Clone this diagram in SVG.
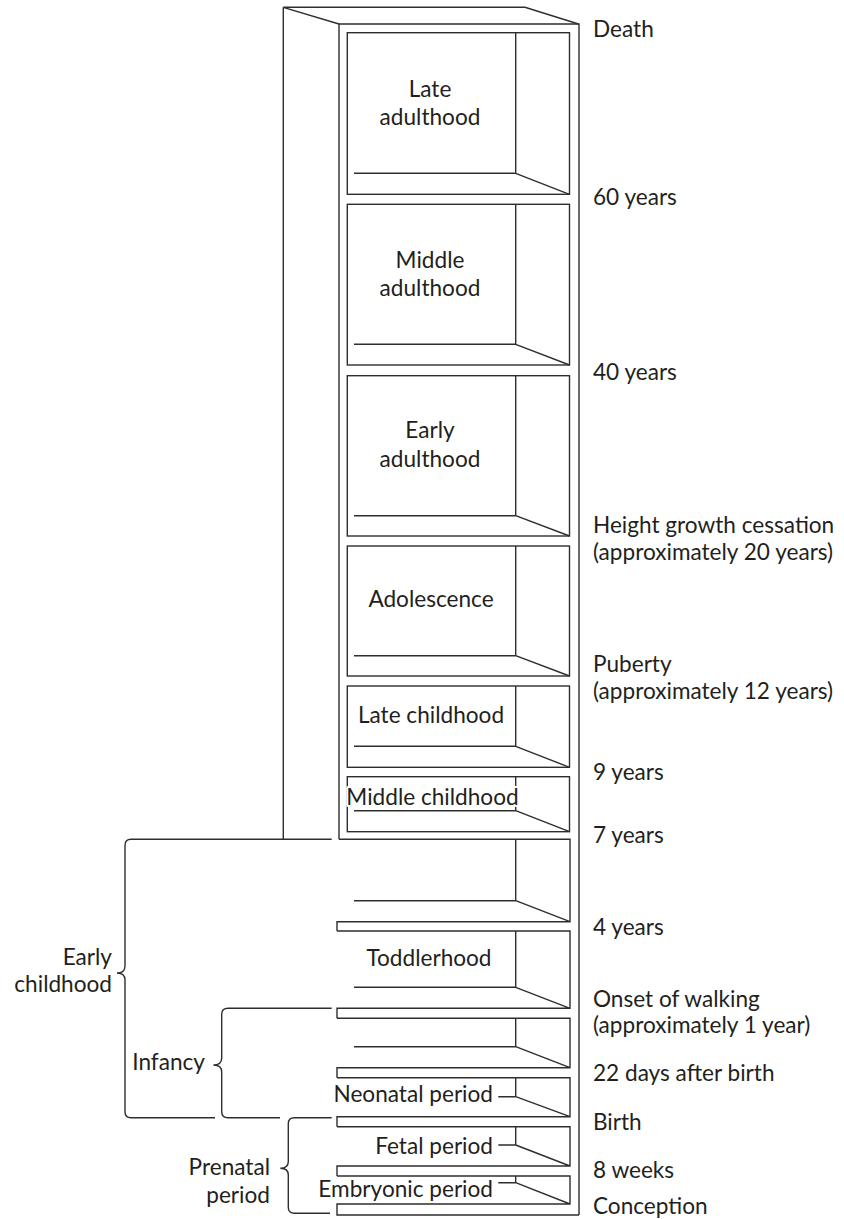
<svg xmlns="http://www.w3.org/2000/svg" width="844" height="1219" viewBox="0 0 844 1219">
<style>
.ln{fill:none;stroke:#2e2e2e;stroke-width:1.4;stroke-linejoin:miter}
.t{font-family:Lato,"Open Sans","Liberation Sans",sans-serif;font-size:22.6px;fill:#231f20}
.c{text-anchor:middle}
.e{text-anchor:end}
.halo{paint-order:stroke;stroke:#fff;stroke-width:4px;stroke-linejoin:round}
</style>
<rect width="844" height="1219" fill="#fff"/>
<g id="frame" class="ln">
<path d="M339,24 L283.3,7.3 H525 L578.5,24 M283.3,7.3 V839.3"/>
<path d="M339,839.3 V24 H579 V1215"/>
</g>
<g id="late-adulthood">
<rect class="ln" x="347.3" y="32.7" width="222.2" height="161.6"/>
<path class="ln" d="M354,173.3 H515.7 V32.7 M515.7,173.3 L569.5,194.3"/>
<text class="t c" x="430" y="96.5">Late</text>
<text class="t c" x="430" y="125">adulthood</text>
</g>
<g id="middle-adulthood">
<rect class="ln" x="347.3" y="204.3" width="222.2" height="160.7"/>
<path class="ln" d="M354,344.3 H515.7 V204.3 M515.7,344.3 L569.5,365"/>
<text class="t c" x="430" y="267.7">Middle</text>
<text class="t c" x="430" y="296">adulthood</text>
</g>
<g id="early-adulthood">
<rect class="ln" x="347.3" y="375.7" width="222.2" height="160.3"/>
<path class="ln" d="M354,515.7 H515.7 V375.7 M515.7,515.7 L569.5,536"/>
<text class="t c" x="430" y="438.3">Early</text>
<text class="t c" x="430" y="466.7">adulthood</text>
</g>
<g id="adolescence">
<rect class="ln" x="347.3" y="546" width="222.2" height="130"/>
<path class="ln" d="M354,655.7 H515.7 V546 M515.7,655.7 L569.5,676"/>
<text class="t c" x="431" y="606.7">Adolescence</text>
</g>
<g id="late-childhood">
<rect class="ln" x="347.3" y="686" width="222.2" height="81.3"/>
<path class="ln" d="M354,746.3 H515.7 V686 M515.7,746.3 L569.5,767.3"/>
<text class="t c" x="431" y="723.3">Late childhood</text>
</g>
<g id="middle-childhood">
<rect class="ln" x="347.3" y="776.7" width="222.2" height="55"/>
<path class="ln" d="M354,810.7 H515.7 V776.7 M515.7,810.7 L569.5,831.7"/>
<text class="t c halo" x="432.5" y="805">Middle childhood</text>
</g>
<g id="early-childhood-box">
<path class="ln" d="M339,839.3 H570 V921.7 H337 V931 M354,900.7 H515.7 V839.3 M515.7,900.7 L570,921.7"/>
</g>
<g id="toddlerhood">
<path class="ln" d="M337,931 H570 V1008.3 H337 V1018.3 M354,987.3 H515.7 V931 M515.7,987.3 L570,1008.3"/>
<text class="t c" x="429" y="965.7">Toddlerhood</text>
</g>
<g id="infancy-box">
<path class="ln" d="M337,1018.3 H570 V1067.7 H337 V1077.7 M354,1046.7 H515.7 V1018.3 M515.7,1046.7 L570,1067.7"/>
</g>
<g id="neonatal-period">
<path class="ln" d="M337,1077.7 H570 V1116.7 H337 V1126.7 M498.3,1096.7 H515.7 V1077.7 M515.7,1096.7 L570,1116.7"/>
<text class="t e" x="493" y="1101.7">Neonatal period</text>
</g>
<g id="fetal-period">
<path class="ln" d="M337,1126.7 H570 V1166 H337 V1176 M498.3,1145 H515.7 V1126.7 M515.7,1145 L570,1166"/>
<text class="t e" x="493" y="1154">Fetal period</text>
</g>
<g id="embryonic-period">
<path class="ln" d="M337,1176 H570 V1204 H337 V1215 H579 M498.3,1182.7 H515.7 V1176 M515.7,1182.7 L570,1204"/>
<text class="t e" x="493" y="1196.7">Embryonic period</text>
</g>
<g id="connectors" class="ln">
<path d="M331.7,839.3 H131 Q125,839.3 125,845.3 V966 Q125,973 117,973 Q125,973 125,980 V1111.7 Q125,1117.7 131,1117.7 H215"/>
<path d="M331.7,1008.3 H228 Q221.7,1008.3 221.7,1014.3 V1058 Q221.7,1065 213.5,1065 Q221.7,1065 221.7,1072 V1111.7 Q221.7,1117.7 228,1117.7 H280"/>
<path d="M331.7,1117.7 H294.3 Q288.3,1117.7 288.3,1123.7 V1161.5 Q288.3,1168.3 280.3,1168.3 Q288.3,1168.3 288.3,1175 V1207.3 Q288.3,1213.3 294.3,1213.3 H330"/>
</g>
<g id="left-labels">
<text class="t e" x="112" y="965">Early</text>
<text class="t e" x="112" y="992">childhood</text>
<text class="t e" x="205" y="1070">Infancy</text>
<text class="t e" x="270" y="1175">Prenatal</text>
<text class="t e" x="270" y="1203">period</text>
</g>
<g id="age-labels">
<text class="t" x="593" y="36.7">Death</text>
<text class="t" x="593" y="205">60 years</text>
<text class="t" x="593" y="380">40 years</text>
<text class="t" x="593" y="533">Height growth cessation</text>
<text class="t" x="593" y="560">(approximately 20 years)</text>
<text class="t" x="593" y="672">Puberty</text>
<text class="t" x="593" y="699">(approximately 12 years)</text>
<text class="t" x="593" y="779.5">9 years</text>
<text class="t" x="593" y="843">7 years</text>
<text class="t" x="593" y="935">4 years</text>
<text class="t" x="593" y="1006.7">Onset of walking</text>
<text class="t" x="593" y="1033">(approximately 1 year)</text>
<text class="t" x="593" y="1081">22 days after birth</text>
<text class="t" x="593" y="1130">Birth</text>
<text class="t" x="593" y="1177.5">8 weeks</text>
<text class="t" x="593" y="1214">Conception</text>
</g>
</svg>
